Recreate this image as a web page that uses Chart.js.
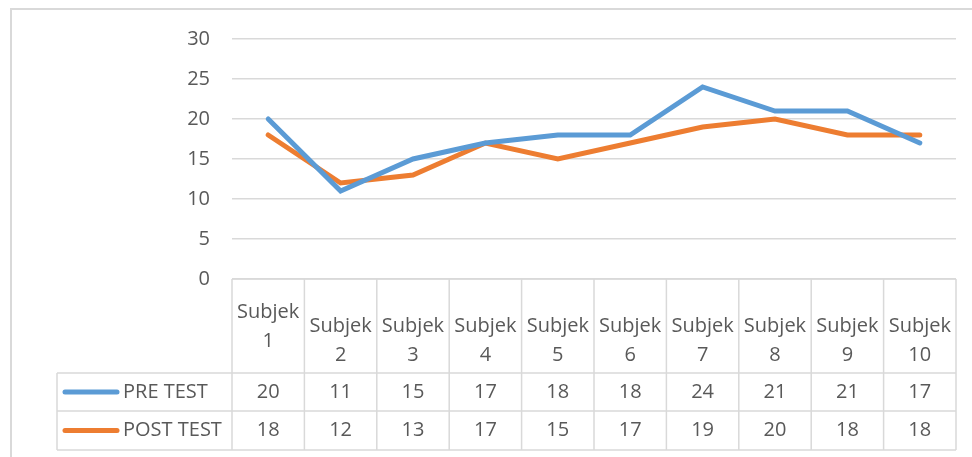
<!DOCTYPE html>
<html>
<head>
<meta charset="utf-8">
<script src="https://cdn.jsdelivr.net/npm/chart.js@4/dist/chart.umd.min.js"></script>
<style>
  body { margin: 0; background: #fff; }
  #wrap { position: relative; width: 972px; height: 457px; }
</style>
</head>
<body>
<div id="wrap"><canvas id="chart"></canvas></div>
<script>
const subjects = ['Subjek 1', 'Subjek 2', 'Subjek 3', 'Subjek 4', 'Subjek 5',
                  'Subjek 6', 'Subjek 7', 'Subjek 8', 'Subjek 9', 'Subjek 10'];
const preTest = [20, 11, 15, 17, 18, 18, 24, 21, 21, 17];
const postTest = [18, 12, 13, 17, 15, 17, 19, 20, 18, 18];
const seriesNames = ['PRE TEST', 'POST TEST'];
const yTicks = [0, 5, 10, 15, 20, 25, 30];

const blue = '#5b9bd5';
const orange = '#ed7d31';
const gridColor = '#d9d9d9';
const textColor = '#595959';
const fontFamily = '"Open Sans", "Liberation Sans", sans-serif';
const fontSize = 20;

// draws the outer frame and the data table under the plot
const tablePlugin = {
    id: 'dataTable',
    afterDraw(chart) {
        const ctx = chart.ctx;
        const xs = chart.scales.x;
        const area = chart.chartArea;
        const half = (xs.getPixelForValue(1) - xs.getPixelForValue(0)) / 2;
        const left = xs.getPixelForValue(0) - half;
        const right = xs.getPixelForValue(subjects.length - 1) + half;
        const top = area.bottom;
        const r1 = top + 94, r2 = r1 + 38, r3 = r2 + 39;
        const legendLeft = 57;

        ctx.save();
        // outer frame
        ctx.strokeStyle = gridColor;
        ctx.lineWidth = 2;
        ctx.beginPath();
        ctx.moveTo(11, 460); ctx.lineTo(11, 9); ctx.lineTo(975, 9);
        ctx.stroke();

        ctx.lineWidth = 1.5;
        ctx.beginPath();
        ctx.moveTo(left, top); ctx.lineTo(right, top);
        [r1, r2, r3].forEach(y => { ctx.moveTo(legendLeft, y); ctx.lineTo(right, y); });
        ctx.moveTo(legendLeft, r1); ctx.lineTo(legendLeft, r3);
        for (let i = 0; i <= subjects.length; i++) {
            const x = left + i * half * 2;
            ctx.moveTo(x, top); ctx.lineTo(x, r3);
        }
        ctx.stroke();

        ctx.fillStyle = textColor;
        ctx.font = fontSize + 'px ' + fontFamily;
        ctx.textAlign = 'center';
        ctx.textBaseline = 'middle';
        subjects.forEach((s, i) => {
            const x = xs.getPixelForValue(i);
            const parts = s.split(' ');
            const y0 = i === 0 ? top + 33 : top + 47;
            ctx.fillText(parts[0], x, y0);
            ctx.fillText(parts[1], x, y0 + 29);
            ctx.fillText(String(preTest[i]), x, (r1 + r2) / 2);
            ctx.fillText(String(postTest[i]), x, (r2 + r3) / 2);
        });

        // legend keys
        [[seriesNames[0], blue, (r1 + r2) / 2], [seriesNames[1], orange, (r2 + r3) / 2]].forEach(([name, color, y]) => {
            ctx.strokeStyle = color;
            ctx.lineWidth = 5;
            ctx.lineCap = 'round';
            ctx.beginPath();
            ctx.moveTo(65, y); ctx.lineTo(117, y);
            ctx.stroke();
            ctx.textAlign = 'left';
            ctx.fillText(name, 123, y);
        });
        ctx.restore();
    }
};

new Chart(document.getElementById('chart'), {
    type: 'line',
    data: {
        labels: subjects,
        datasets: [
            { label: seriesNames[0], data: preTest, borderColor: blue, backgroundColor: blue,
              borderWidth: 5, pointRadius: 0, tension: 0, borderCapStyle: 'round' },
            { label: seriesNames[1], data: postTest, borderColor: orange, backgroundColor: orange,
              borderWidth: 5, pointRadius: 0, tension: 0, borderCapStyle: 'round' }
        ]
    },
    options: {
        responsive: true,
        maintainAspectRatio: false,
        animation: false,
        layout: { padding: { left: 0, right: 16, top: 39, bottom: 178 } },
        plugins: { legend: { display: false }, tooltip: { enabled: false } },
        scales: {
            x: { display: false, offset: true },
            y: {
                min: 0, max: 30,
                afterFit(scale) { scale.width = 232; },
                afterBuildTicks(scale) { scale.ticks = yTicks.map(v => ({ value: v })); },
                border: { display: false },
                grid: { color: gridColor, lineWidth: 1.5, drawTicks: false },
                ticks: { color: textColor, padding: 22, font: { size: fontSize, family: fontFamily } }
            }
        }
    },
    plugins: [tablePlugin]
});
</script>
</body>
</html>
